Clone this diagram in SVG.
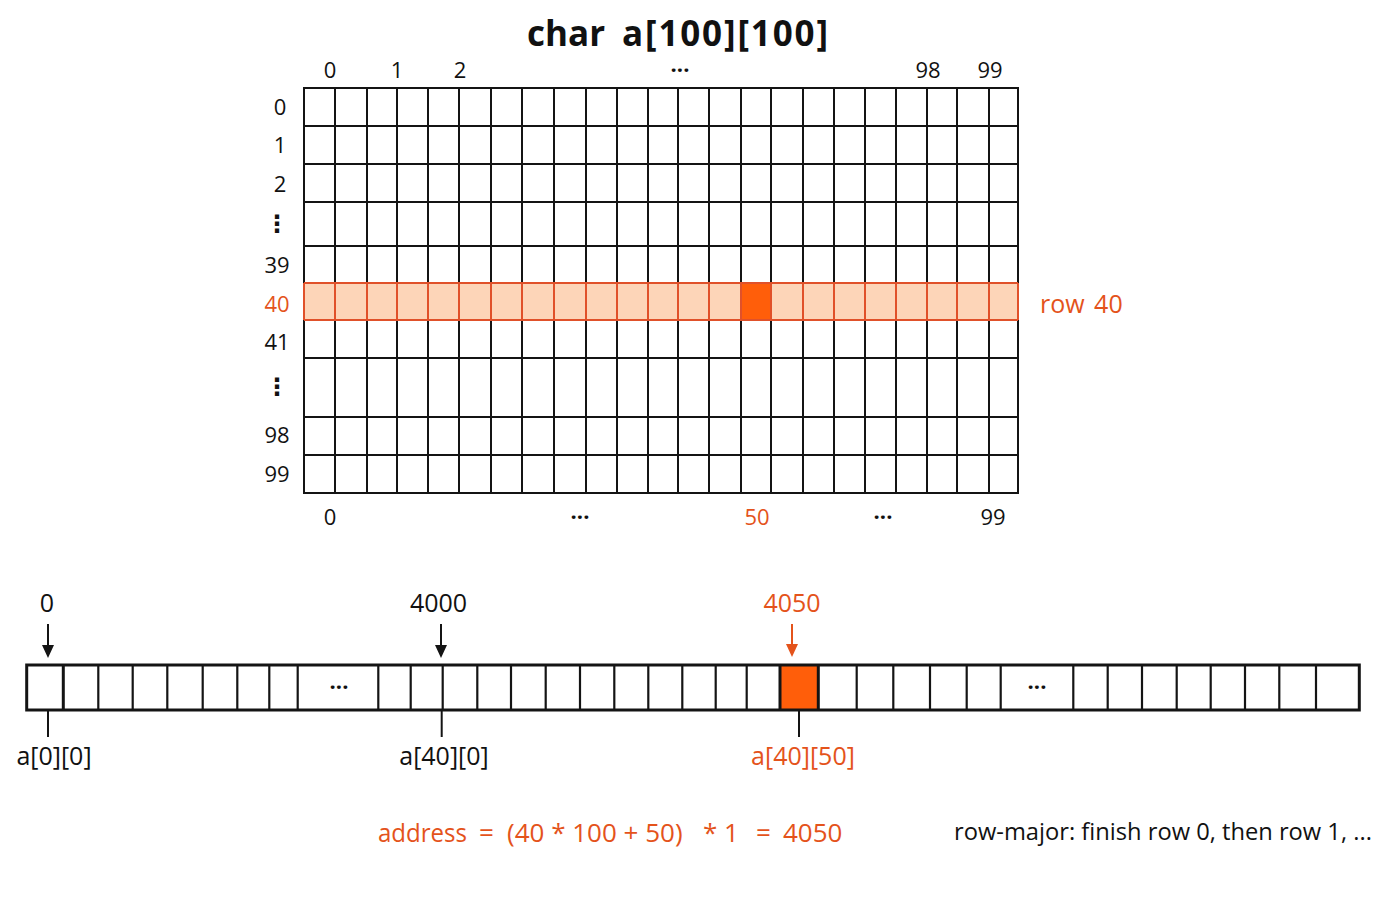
<svg xmlns="http://www.w3.org/2000/svg" width="1400" height="900" viewBox="0 0 1400 900">
<defs>
<style>
text{font-family:"Open Sans","Noto Sans","DejaVu Sans",sans-serif;fill:#111;}
.t{font-size:22px;text-anchor:middle;}
.s{font-size:25px;text-anchor:middle;}
.o{fill:#E4531B;}
.title{font-size:35px;font-weight:bold;}
.grid{stroke:#141414;stroke-width:2;fill:none;}
.hl{stroke:#E0512A;stroke-width:2;fill:none;}
.strip{stroke:#141414;stroke-width:2.2;fill:none;}
.dots{font-size:22px;font-weight:bold;text-anchor:middle;}
.vd{font-family:"DejaVu Sans",sans-serif;font-size:24px;font-weight:bold;text-anchor:middle;}
.shaft{stroke-width:2;fill:none;}
</style>
</defs>
<rect width="1400" height="900" fill="#ffffff"/>

<g id="title">
<text class="title" x="527" y="46">char</text>
<text class="title" x="622" y="46" textLength="206" lengthAdjust="spacing">a[100][100]</text>
</g>

<g id="matrix">
<rect x="304" y="283" width="714" height="37" fill="#FDD5B8"/>
<rect x="741" y="283" width="30" height="37" fill="#FF5E0A"/>
<path class="grid" d="M304,88V283M335,88V283M367,88V283M397,88V283M428,88V283M459,88V283M491,88V283M522,88V283M554,88V283M586,88V283M617,88V283M648,88V283M678,88V283M709,88V283M741,88V283M771,88V283M803,88V283M834,88V283M865,88V283M896,88V283M927,88V283M957,88V283M989,88V283M1018,88V283
M304,320V493M335,320V493M367,320V493M397,320V493M428,320V493M459,320V493M491,320V493M522,320V493M554,320V493M586,320V493M617,320V493M648,320V493M678,320V493M709,320V493M741,320V493M771,320V493M803,320V493M834,320V493M865,320V493M896,320V493M927,320V493M957,320V493M989,320V493M1018,320V493
M303,88H1019M304,126H1018M304,164H1018M304,202H1018M304,246H1018M304,358H1018M304,417H1018M304,455H1018M303,493H1019"/>
<path class="hl" d="M304,283V320M335,283V320M367,283V320M397,283V320M428,283V320M459,283V320M491,283V320M522,283V320M554,283V320M586,283V320M617,283V320M648,283V320M678,283V320M709,283V320M741,283V320M771,283V320M803,283V320M834,283V320M865,283V320M896,283V320M927,283V320M957,283V320M989,283V320M1018,283V320M304,283H1018M304,320H1018"/>
</g>

<g id="col-labels-top">
<text class="t" x="330" y="78">0</text>
<text class="t" x="397" y="78">1</text>
<text class="t" x="460" y="78">2</text>
<text class="dots" x="680" y="78">···</text>
<text class="t" x="928" y="78">98</text>
<text class="t" x="990" y="78">99</text>
</g>

<g id="row-labels">
<text class="t" x="280" y="115">0</text>
<text class="t" x="280" y="153">1</text>
<text class="t" x="280" y="192">2</text>
<text class="vd" x="277" y="232">⋮</text>
<text class="t" x="277" y="273">39</text>
<text class="t o" x="277" y="312">40</text>
<text class="t" x="277" y="350">41</text>
<text class="vd" x="277" y="395">⋮</text>
<text class="t" x="277" y="443">98</text>
<text class="t" x="277" y="482">99</text>
</g>

<g id="col-labels-bottom">
<text class="t" x="330" y="525">0</text>
<text class="dots" x="580" y="525">···</text>
<text class="t o" x="757" y="525">50</text>
<text class="dots" x="883" y="525">···</text>
<text class="t" x="993" y="525">99</text>
</g>

<g id="row-label-right">
<text x="1040" y="313" style="font-size:25px;word-spacing:3px" class="o">row 40</text>
</g>

<g id="memory-strip">
<rect x="780" y="665" width="38.3" height="45" fill="#FF5E0A"/>
<path class="strip" d="M98.3,665V710M132.7,665V710M167.3,665V710M202.7,665V710M237.3,665V710M269.3,665V710M297.7,665V710M378.3,665V710M410.7,665V710M442.7,665V710M477.3,665V710M511,665V710M545.7,665V710M580,665V710M614.3,665V710M648.3,665V710M682.3,665V710M715.7,665V710M746.7,665V710M856.7,665V710M893.3,665V710M930,665V710M966.7,665V710M1000.7,665V710M1073.3,665V710M1107.7,665V710M1142,665V710M1176.7,665V710M1210.7,665V710M1245,665V710M1279.3,665V710M1316,665V710"/>
<path d="M63.3,665V710M780,665V710M818.3,665V710" stroke="#141414" stroke-width="3" fill="none"/>
<rect x="26.7" y="665" width="1332.6" height="45" fill="none" stroke="#141414" stroke-width="3"/>
<text class="dots" x="339" y="695">···</text>
<text class="dots" x="1037" y="695">···</text>
</g>

<g id="connectors">
<path class="shaft" d="M48,624V648M441,624V648" stroke="#141414"/>
<path d="M42,645L54,645L48,658ZM435,645L447,645L441,658Z" fill="#141414"/>
<path class="shaft" d="M792,624V648" stroke="#E4531B"/>
<path d="M786,644L798,644L792,657Z" fill="#E4531B"/>
<path class="shaft" d="M48,710V737M441.7,710V737M799,710V737" stroke="#141414"/>
</g>

<g id="address-labels">
<text class="s" x="47" y="612">0</text>
<text class="s" x="438.5" y="612">4000</text>
<text class="s o" x="792" y="612">4050</text>
<text class="s" x="54" y="765">a[0][0]</text>
<text class="s" x="444" y="765">a[40][0]</text>
<text class="s o" x="803" y="765">a[40][50]</text>
</g>

<g id="formula">
<text class="o" style="font-size:26px" y="842"><tspan x="378" textLength="89" lengthAdjust="spacingAndGlyphs">address</tspan><tspan x="479">=</tspan><tspan x="507">(40 * 100 + 50)</tspan><tspan x="703">* 1</tspan><tspan x="756">=</tspan><tspan x="783">4050</tspan></text>
</g>

<g id="note">
<text style="font-size:23.7px" x="954" y="840">row-major: finish row 0, then row 1, ...</text>
</g>
</svg>
